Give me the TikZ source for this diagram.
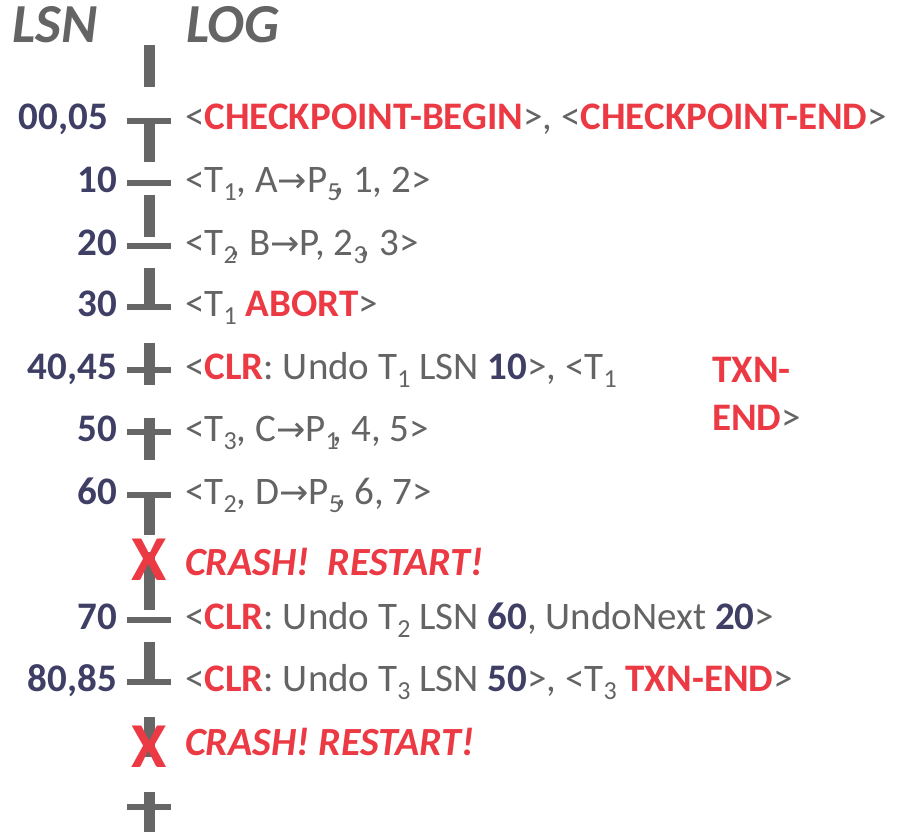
\documentclass[tikz,border=0pt]{standalone}
\usepackage{fontspec}
\setmainfont{Carlito}
\newfontfamily\arrowfont{DejaVu Sans}
\definecolor{LogGrey}{HTML}{646464}
\definecolor{TickGrey}{HTML}{666666}
\definecolor{LsnNavy}{HTML}{3F3F66}
\definecolor{CrashRed}{HTML}{EC3A44}
\newcommand\hot[1]{\textcolor{CrashRed}{\textbf{#1}}}
\newcommand\lsn[1]{\textcolor{LsnNavy}{\textbf{#1}}}
\newcommand\lsub[1]{\raisebox{-8pt}{\fontsize{26}{26}\selectfont#1}}
\newcommand\pto{{\arrowfont\fontsize{35}{35}\selectfont →}}
\begin{document}
\begin{tikzpicture}[x=1pt,y=-1pt,every node/.style={inner sep=0pt,text=LogGrey,font=\fontsize{39}{42}\selectfont},
 lsnlabel/.style={anchor=base east,text=LsnNavy,font=\fontsize{39}{42}\selectfont\bfseries},logline/.style={anchor=base west},
 crash/.style={anchor=base west,text=CrashRed,font=\fontsize{40}{42}\selectfont\bfseries\itshape},
 crossmark/.style={text=CrashRed,font=\fontsize{64}{64}\selectfont\bfseries},
 head/.style={anchor=base west,font=\fontsize{55}{58}\selectfont\bfseries\itshape},
 vbar/.style={line width=11pt,draw=TickGrey},hbar/.style={line width=6pt,draw=TickGrey}]
\useasboundingbox(0,0)rectangle(907,832);
% timeline
\foreach \a/\b in {45/87,121/162,195/237,268/309,343/385,418/460,495/535,552/610,642/684,717/757,792/832}\draw[vbar](149,\a)--(149,\b);
\foreach \y in {121,183,246,307,370,432,495,620,682,807}\draw[hbar](127,\y)--(171,\y);
\node[head](hLsn)at(12,43){LSN};\node[head](hLog)at(186,43){LOG};
% LSN column
\node[lsnlabel](n00)at(108,130){00,05};\node[lsnlabel](n10)at(117,192){10};\node[lsnlabel](n20)at(117,255){20};
\node[lsnlabel](n30)at(117,316){30};\node[lsnlabel](n40)at(117,379){40,45};\node[lsnlabel](n50)at(117,441){50};
\node[lsnlabel](n60)at(117,504){60};\node[lsnlabel](n70)at(117,629){70};\node[lsnlabel](n80)at(117,691){80,85};
% log records
\node[logline](l00)at(185,130){<\hot{CHECKPOINT-BEGIN}>, <\hot{CHECKPOINT-END}>};
\node[logline](l10)at(185,192){<T\lsub{1}, A\pto P\lsub{5}\kern-6pt, 1, 2>};
\node[logline](l20)at(185,255){<T\lsub{2}\kern-6pt, B\pto P, 2\lsub{3}\kern-6pt, 3>};
\node[logline](l30)at(185,316){<T\lsub{1} \hot{ABORT}>};
\node[logline](l40)at(185,379){<\hot{CLR}: Undo T\lsub{1} LSN \lsn{10}>, <T\lsub{1}};
\node[logline](txnA)at(712,382){\hot{TXN-}};\node[logline](txnB)at(712,430){\hot{END}>};
\node[logline](l50)at(185,441){<T\lsub{3}, C\pto P\lsub{1}\kern-6pt, 4, 5>};
\node[logline](l60)at(185,504){<T\lsub{2}, D\pto P\lsub{5}\kern-6pt, 6, 7>};
\node[crossmark](x1)at(149,560){X};\node[crash](c1)at(185,575){CRASH!\ \ RESTART!};
\node[logline](l70)at(185,629){<\hot{CLR}: Undo T\lsub{2} LSN \lsn{60}, UndoNext \lsn{20}>};
\node[logline](l80)at(185,691){<\hot{CLR}: Undo T\lsub{3} LSN \lsn{50}>, <T\lsub{3} \hot{TXN-END}>};
\node[crossmark](x2)at(149,747){X};\node[crash](c2)at(185,755){CRASH! RESTART!};
\end{tikzpicture}
\end{document}
